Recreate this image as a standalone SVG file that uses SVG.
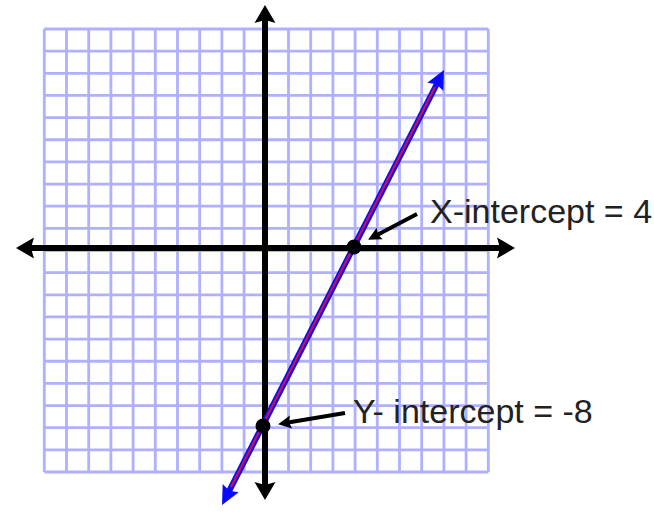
<svg xmlns="http://www.w3.org/2000/svg" width="654" height="512" viewBox="0 0 654 512">
<defs>
<style>
.grid{stroke:#b0b0ff;stroke-width:2.8;fill:none}
.axis{stroke:#000;stroke-width:6;fill:none}
.lblue{stroke:#0a0aff;stroke-width:6;fill:none}
.lred{stroke:#c8124a;stroke-width:2.2;fill:none}
.ptr{stroke:#000;stroke-width:4;fill:none}
.lbl{font-family:"Liberation Sans",Arial,sans-serif;font-size:34px;fill:#222}
</style>
<marker id="axHead" viewBox="-6 -12 24 24" markerWidth="24" markerHeight="24" refX="0" refY="0" orient="auto-start-reverse" markerUnits="userSpaceOnUse">
<path d="M-4,-10.5 L14,0 L-4,10.5 L-1,0 Z" fill="#000"/>
</marker>
<marker id="blueHead" viewBox="-6 -10 22 20" markerWidth="22" markerHeight="20" refX="0" refY="0" orient="auto-start-reverse" markerUnits="userSpaceOnUse">
<path d="M-5,-9 L14,0 L-5,9 L-2,0 Z" fill="#0a0aff"/>
</marker>
<marker id="ptrHead" viewBox="-4 -8 16 16" markerWidth="16" markerHeight="16" refX="0" refY="0" orient="auto" markerUnits="userSpaceOnUse">
<path d="M-3,-6.5 L10,0 L-3,6.5 L-1,0 Z" fill="#000"/>
</marker>
</defs>
<rect width="654" height="512" fill="#fff"/>
<g id="grid">
<path class="grid" d="M44.3,29V472M66.5,29V472M88.7,29V472M110.9,29V472M133.1,29V472M155.3,29V472M177.5,29V472M199.7,29V472M221.9,29V472M244.1,29V472M266.3,29V472M288.5,29V472M310.7,29V472M332.9,29V472M355.1,29V472M377.3,29V472M399.5,29V472M421.7,29V472M443.9,29V472M466.1,29V472M488.3,29V472"/>
<path class="grid" d="M44.3,29H488.3M44.3,51.15H488.3M44.3,73.3H488.3M44.3,95.45H488.3M44.3,117.6H488.3M44.3,139.75H488.3M44.3,161.9H488.3M44.3,184.05H488.3M44.3,206.2H488.3M44.3,228.35H488.3M44.3,250.5H488.3M44.3,272.65H488.3M44.3,294.8H488.3M44.3,316.95H488.3M44.3,339.1H488.3M44.3,361.25H488.3M44.3,383.4H488.3M44.3,405.55H488.3M44.3,427.7H488.3M44.3,449.85H488.3M44.3,472H488.3"/>
</g>
<g id="connectors">
<line id="x-axis" class="axis" x1="30" y1="248" x2="501" y2="248" marker-start="url(#axHead)" marker-end="url(#axHead)"/>
<line id="y-axis" class="axis" x1="265" y1="486" x2="265" y2="19" marker-start="url(#axHead)" marker-end="url(#axHead)"/>
<line id="line-blue" class="lblue" x1="228.4" y1="492.5" x2="437.6" y2="82.5" marker-start="url(#blueHead)" marker-end="url(#blueHead)"/>
<line id="line-red" class="lred" x1="231" y1="487" x2="435" y2="87"/>
<line id="ptr-x" class="ptr" x1="417" y1="214" x2="377" y2="235" marker-end="url(#ptrHead)"/>
<line id="ptr-y" class="ptr" x1="345" y1="413" x2="288" y2="422.5" marker-end="url(#ptrHead)"/>
</g>
<g id="x-intercept">
<circle cx="354" cy="247" r="7.5" fill="#000"/>
<text class="lbl" x="430" y="223">X-intercept = 4</text>
</g>
<g id="y-intercept">
<circle cx="263" cy="426" r="7.5" fill="#000"/>
<text class="lbl" x="353" y="423">Y- intercept = -8</text>
</g>
</svg>
